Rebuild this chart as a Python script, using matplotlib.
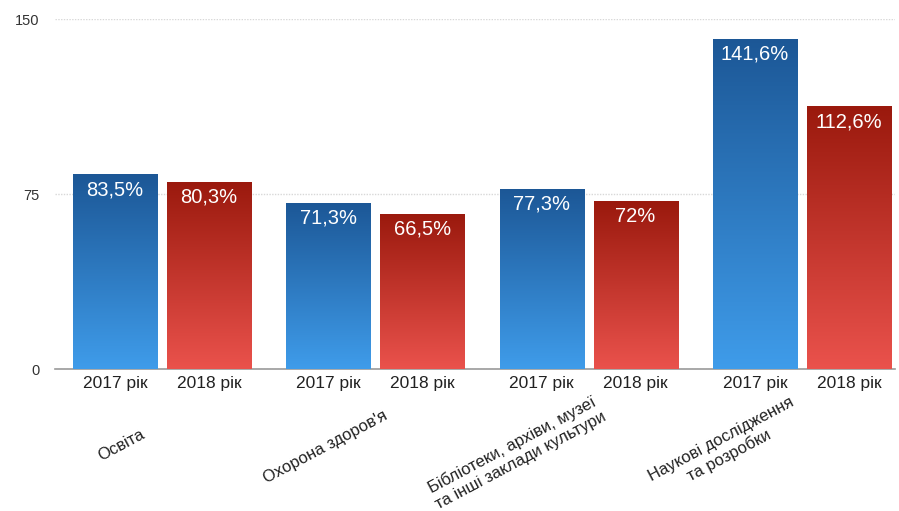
import numpy as np
import matplotlib.pyplot as plt
from matplotlib.colors import LinearSegmentedColormap
from matplotlib.transforms import blended_transform_factory

plt.rcParams['font.family'] = ['Liberation Sans', 'DejaVu Sans']

# Data
groups = ["Освіта", "Охорона здоров'я",
          "Бібліотеки, архіви, музеї\nта інші заклади культури",
          "Наукові дослідження\nта розробки"]
years = ["2017 рік", "2018 рік"]
vals_2017 = [83.5, 71.3, 77.3, 141.6]
vals_2018 = [80.3, 66.5, 72.0, 112.6]
labels_2017 = ["83,5%", "71,3%", "77,3%", "141,6%"]
labels_2018 = ["80,3%", "66,5%", "72%", "112,6%"]

blue = LinearSegmentedColormap.from_list("b", ["#3f9cea", "#1c5796"])
red = LinearSegmentedColormap.from_list("r", ["#ea524c", "#9a190d"])

fig = plt.figure(figsize=(8.99, 5.11), dpi=100)
ax = fig.add_axes([55 / 899, 1 - 369 / 511, 840 / 899, 350 / 511])

x = np.arange(len(groups))
off = 0.22
w = 0.394
grad = np.linspace(0, 1, 256).reshape(-1, 1)

def gradient_bar(xc, h, cmap):
    bar = ax.bar(xc, h, width=w, color="none", edgecolor="none", zorder=3)[0]
    im = ax.imshow(grad, cmap=cmap, aspect="auto", origin="lower",
                   extent=[xc - w / 2, xc + w / 2, 0, h], zorder=3)
    im.set_clip_path(bar)

for i in range(len(groups)):
    gradient_bar(x[i] - off, vals_2017[i], blue)
    gradient_bar(x[i] + off, vals_2018[i], red)
    ax.text(x[i] - off, vals_2017[i] - 2.5, labels_2017[i], ha="center", va="top",
            color="white", fontsize=14.5, zorder=4)
    ax.text(x[i] + off, vals_2018[i] - 2.5, labels_2018[i], ha="center", va="top",
            color="white", fontsize=14.5, zorder=4)

ax.set_xlim(-0.502, 3.436)
ax.set_ylim(0, 150)
ax.set_yticks([0, 75, 150])
ax.set_yticklabels(["0", "75", "150"], fontsize=10.5, color="#333333")
ax.tick_params(axis="y", length=0, pad=11)
ax.set_xticks([])
for s in ["top", "right", "left"]:
    ax.spines[s].set_visible(False)
ax.spines["bottom"].set_color("#9a9a9a")
ax.spines["bottom"].set_linewidth(1.2)
ax.yaxis.grid(True, color="#d8d8d8", linewidth=1, linestyle=(0, (1, 1)))
ax.set_axisbelow(True)
ax.patch.set_alpha(0)

# Year labels under each bar
tr = blended_transform_factory(ax.transData, ax.transAxes)
for i in range(len(groups)):
    for j, d in enumerate([-off, off]):
        ax.text(x[i] + d, -0.02, years[j], transform=tr, ha="center", va="top",
                fontsize=12.5, color="#222222")

# Rotated category labels, centred a little left of each group
lab_dx = [-0.19, -0.235, -0.34, -0.36]
lab_y = [-0.217, -0.223, -0.24, -0.225]
for i, g in enumerate(groups):
    ax.text(x[i] + lab_dx[i], lab_y[i], g, transform=tr, ha="center", va="center",
            rotation=28, rotation_mode="anchor", multialignment="center",
            fontsize=12, color="#222222")

fig.savefig("out.png", dpi=100)
